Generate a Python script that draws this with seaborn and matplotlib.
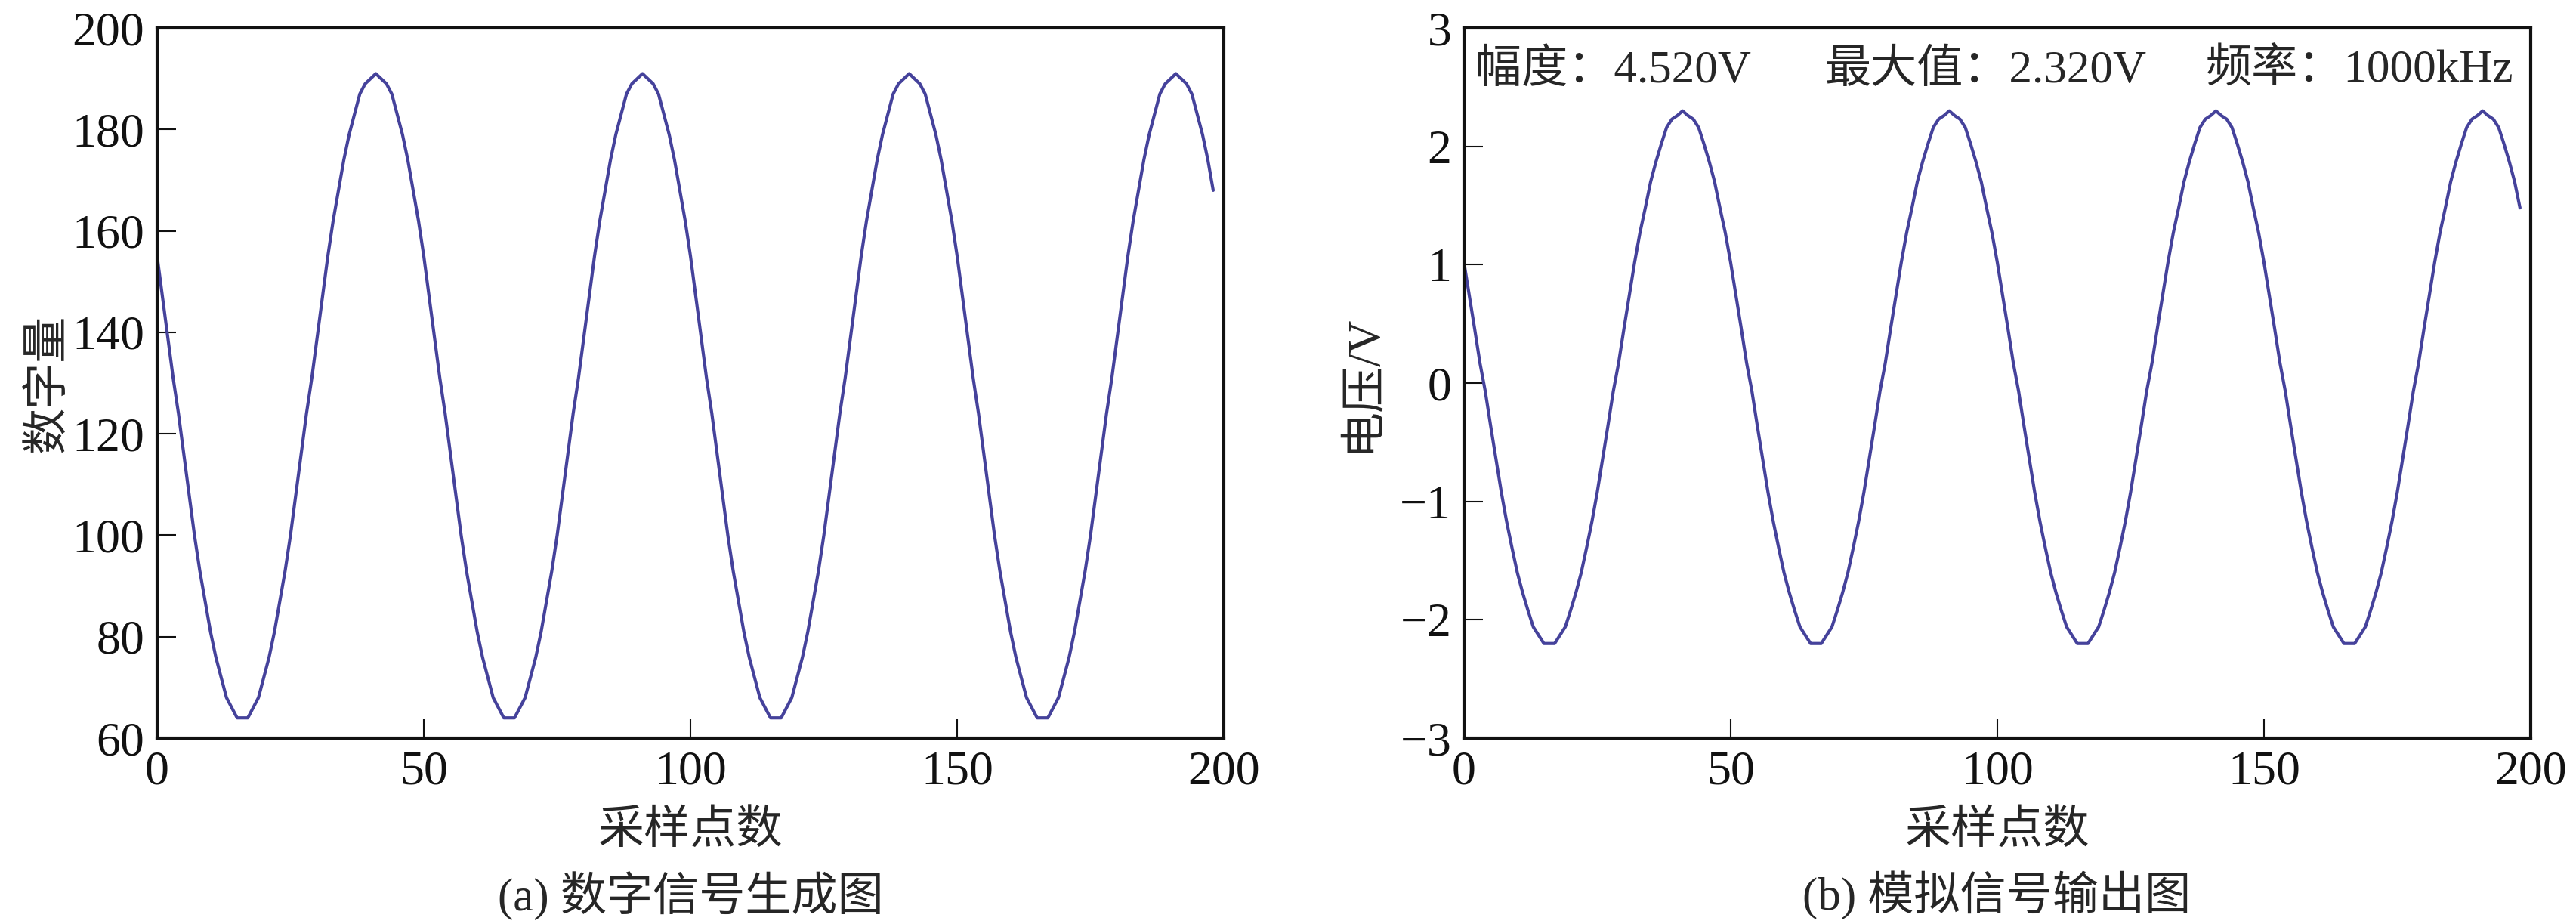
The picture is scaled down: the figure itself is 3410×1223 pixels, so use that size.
import numpy as np
import pandas as pd
import seaborn as sns
import matplotlib.pyplot as plt

# sample index (采样点数)
samples = list(range(199))

# digital code
digital = [155, 147, 139, 131, 124, 116, 108, 100, 93, 87, 81, 76, 72, 68, 66, 64, 64, 64, 66, 68,
           72, 76, 81, 87, 93, 100, 108, 116, 124, 131, 139, 147, 155, 162, 168, 174, 179, 183, 187, 189,
           190, 191, 190, 189, 187, 183, 179, 174, 168, 162, 155, 147, 139, 131, 124, 116, 108, 100, 93, 87,
           81, 76, 72, 68, 66, 64, 64, 64, 66, 68, 72, 76, 81, 87, 93, 100, 108, 116, 124, 131,
           139, 147, 155, 162, 168, 174, 179, 183, 187, 189, 190, 191, 190, 189, 187, 183, 179, 174, 168, 162,
           155, 147, 139, 131, 124, 116, 108, 100, 93, 87, 81, 76, 72, 68, 66, 64, 64, 64, 66, 68,
           72, 76, 81, 87, 93, 100, 108, 116, 124, 131, 139, 147, 155, 162, 168, 174, 179, 183, 187, 189,
           190, 191, 190, 189, 187, 183, 179, 174, 168, 162, 155, 147, 139, 131, 124, 116, 108, 100, 93, 87,
           81, 76, 72, 68, 66, 64, 64, 64, 66, 68, 72, 76, 81, 87, 93, 100, 108, 116, 124, 131,
           139, 147, 155, 162, 168, 174, 179, 183, 187, 189, 190, 191, 190, 189, 187, 183, 179, 174, 168]

# output voltage
voltage = [1.02, 0.74, 0.46, 0.17, -0.07, -0.36, -0.64, -0.92, -1.17, -1.39, -1.60, -1.77, -1.92, -2.06, -2.13, -2.20, -2.20, -2.20, -2.13, -2.06,
           -1.92, -1.77, -1.60, -1.39, -1.17, -0.92, -0.64, -0.36, -0.07, 0.17, 0.46, 0.74, 1.02, 1.27, 1.48, 1.70, 1.87, 2.02, 2.16, 2.23,
           2.26, 2.30, 2.26, 2.23, 2.16, 2.02, 1.87, 1.70, 1.48, 1.27, 1.02, 0.74, 0.46, 0.17, -0.07, -0.36, -0.64, -0.92, -1.17, -1.39,
           -1.60, -1.77, -1.92, -2.06, -2.13, -2.20, -2.20, -2.20, -2.13, -2.06, -1.92, -1.77, -1.60, -1.39, -1.17, -0.92, -0.64, -0.36, -0.07, 0.17,
           0.46, 0.74, 1.02, 1.27, 1.48, 1.70, 1.87, 2.02, 2.16, 2.23, 2.26, 2.30, 2.26, 2.23, 2.16, 2.02, 1.87, 1.70, 1.48, 1.27,
           1.02, 0.74, 0.46, 0.17, -0.07, -0.36, -0.64, -0.92, -1.17, -1.39, -1.60, -1.77, -1.92, -2.06, -2.13, -2.20, -2.20, -2.20, -2.13, -2.06,
           -1.92, -1.77, -1.60, -1.39, -1.17, -0.92, -0.64, -0.36, -0.07, 0.17, 0.46, 0.74, 1.02, 1.27, 1.48, 1.70, 1.87, 2.02, 2.16, 2.23,
           2.26, 2.30, 2.26, 2.23, 2.16, 2.02, 1.87, 1.70, 1.48, 1.27, 1.02, 0.74, 0.46, 0.17, -0.07, -0.36, -0.64, -0.92, -1.17, -1.39,
           -1.60, -1.77, -1.92, -2.06, -2.13, -2.20, -2.20, -2.20, -2.13, -2.06, -1.92, -1.77, -1.60, -1.39, -1.17, -0.92, -0.64, -0.36, -0.07, 0.17,
           0.46, 0.74, 1.02, 1.27, 1.48, 1.70, 1.87, 2.02, 2.16, 2.23, 2.26, 2.30, 2.26, 2.23, 2.16, 2.02, 1.87, 1.70, 1.48]

x_ticks = [0, 50, 100, 150, 200]
y_ticks_a = [60, 80, 100, 120, 140, 160, 180, 200]
y_ticks_b = [-3, -2, -1, 0, 1, 2, 3]
info_texts = ["幅度：4.520V", "最大值：2.320V", "频率：1000kHz"]
info_x = [0.011, 0.338, 0.695]

df = pd.DataFrame({"n": samples, "digital": digital, "voltage": voltage})

sns.set_style("ticks")
plt.rcParams['font.family'] = ['Liberation Serif', 'Noto Sans CJK SC']
plt.rcParams['axes.unicode_minus'] = True

line_color = "#45429b"
fs = 44

fig = plt.figure(figsize=(34.1, 12.23), dpi=100)
ax1 = fig.add_axes([0.0610, 0.2011, 0.4141, 0.7686])
ax2 = fig.add_axes([0.5683, 0.2011, 0.4141, 0.7686])

sns.lineplot(data=df, x="n", y="digital", ax=ax1, color=line_color, linewidth=3)
sns.lineplot(data=df, x="n", y="voltage", ax=ax2, color=line_color, linewidth=3)

for ax, yt in [(ax1, y_ticks_a), (ax2, y_ticks_b)]:
    ax.set_xlim(0, 200)
    ax.set_ylim(yt[0], yt[-1])
    ax.set_xticks(x_ticks)
    ax.set_yticks(yt)
    ax.tick_params(direction="in", length=18, width=1.5, labelsize=46, pad=12,
                   top=False, right=False, colors="#111111")
    for s in ax.spines.values():
        s.set_linewidth(3)
        s.set_color("#111111")
    ax.set_xlabel("采样点数", fontsize=fs)
    ax.xaxis.set_label_coords(0.5, -0.101)

ax1.set_ylabel("数字量", fontsize=fs)
ax1.yaxis.set_label_coords(-0.082, 0.5)
ax2.set_ylabel("电压/V", fontsize=fs)
ax2.yaxis.set_label_coords(-0.075, 0.5)

for t, xp in zip(info_texts, info_x):
    ax2.text(xp, 0.940, t, transform=ax2.transAxes, fontsize=fs, ha="left", va="center")

fig.text(0.268, 0.031, "(a) 数字信号生成图", fontsize=fs, ha="center", va="center")
fig.text(0.775, 0.031, "(b) 模拟信号输出图", fontsize=fs, ha="center", va="center")

fig.savefig("out.png", dpi=100)
